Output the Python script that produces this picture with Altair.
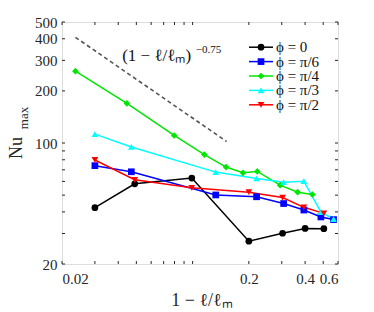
import altair as alt
import pandas as pd

# ---------------- data ----------------
labels = ["ϕ = 0", "ϕ = π/6", "ϕ = π/4", "ϕ = π/3", "ϕ = π/2"]
colors = ["#000000", "#0000ff", "#00e600", "#00ffff", "#ff0000"]
shapes = ["circle", "square", "diamond", "triangle-up", "triangle-down"]

x_phi0 = [0.03, 0.049, 0.099, 0.2, 0.303, 0.4, 0.504]
y_phi0 = [42.3, 58.1, 62.7, 27.1, 30.1, 32.1, 32.0]

x_phi6 = [0.03, 0.047, 0.133, 0.22, 0.307, 0.394, 0.486, 0.568]
y_phi6 = [74.0, 68.2, 50.1, 48.9, 44.7, 41.0, 37.4, 36.1]

x_phi4 = [0.0236, 0.0445, 0.0797, 0.1156, 0.151, 0.186, 0.222, 0.294, 0.365, 0.438]
y_phi4 = [260, 169.6, 110.5, 85.7, 72.6, 67.3, 68.5, 57.1, 52.0, 50.4]

x_phi3 = [0.03, 0.047, 0.133, 0.22, 0.307, 0.394, 0.486, 0.568]
y_phi3 = [112.5, 94.9, 67.9, 62.4, 59.4, 60.2, 39.9, 36.4]

x_phi2 = [0.03, 0.049, 0.099, 0.2, 0.303, 0.394, 0.504]
y_phi2 = [79.8, 61.3, 55.1, 52.0, 48.4, 42.5, 39.2]

dash_x = [0.0236, 0.152]
dash_y = [408, 102]

x_ticks = [0.02, 0.03, 0.04, 0.05, 0.06, 0.07, 0.08, 0.09, 0.1, 0.2, 0.3, 0.4, 0.5, 0.6]
x_labels = [0.02, 0.2, 0.4, 0.6]
y_ticks = [20, 30, 40, 50, 60, 70, 80, 90, 100, 200, 300, 400, 500]
y_labels = [20, 100, 200, 300, 400, 500]

W, H = 276, 242
FONT = "Liberation Serif"
AX = "#262626"

rows = []
for lab, xs, ys in zip(labels, [x_phi0, x_phi6, x_phi4, x_phi3, x_phi2],
                       [y_phi0, y_phi6, y_phi4, y_phi3, y_phi2]):
    for i, (a, b) in enumerate(zip(xs, ys)):
        rows.append({"series": lab, "x": a, "y": b, "i": i})
df = pd.DataFrame(rows)

xscale = alt.Scale(type="log", domain=[0.02, 0.6], nice=False)
yscale = alt.Scale(type="log", domain=[20, 500], nice=False)
cscale = alt.Scale(domain=labels, range=colors)
sscale = alt.Scale(domain=labels, range=shapes)

xaxis = alt.Axis(values=x_labels, format="~g", ticks=False, domain=False, grid=False,
                 labelFont=FONT, labelFontSize=15, labelColor=AX, labelPadding=7, title=None)
yaxis = alt.Axis(values=y_labels, format="d", ticks=False, domain=False, grid=False,
                 labelFont=FONT, labelFontSize=15, labelColor=AX, labelPadding=5, title=None)

base = alt.Chart(df)
lines = base.mark_line(strokeWidth=1.5).encode(
    x=alt.X("x:Q", scale=xscale, axis=xaxis),
    y=alt.Y("y:Q", scale=yscale, axis=yaxis),
    color=alt.Color("series:N", scale=cscale, legend=None),
    detail="series:N",
    order="i:Q",
)
points = base.mark_point(filled=True, size=45, opacity=1).encode(
    x=alt.X("x:Q", scale=xscale),
    y=alt.Y("y:Q", scale=yscale),
    color=alt.Color("series:N", scale=cscale, legend=None),
    shape=alt.Shape("series:N", scale=sscale, legend=None),
)

dash = alt.Chart(pd.DataFrame({"x": dash_x, "y": dash_y})).mark_line(
    color="#555555", strokeWidth=1.6, strokeDash=[4, 3]
).encode(x=alt.X("x:Q", scale=xscale), y=alt.Y("y:Q", scale=yscale))

ann_main = alt.Chart(pd.DataFrame({"x": [0.042], "y": [316], "t": ["(1 − ℓ/ℓₘ)"]})).mark_text(
    font=FONT, fontSize=17, align="left", baseline="middle", color="#111111"
).encode(x=alt.X("x:Q", scale=xscale), y=alt.Y("y:Q", scale=yscale), text="t:N")
ann_sup = alt.Chart(pd.DataFrame({"x": [0.104], "y": [345], "t": ["−0.75"]})).mark_text(
    font=FONT, fontSize=11, align="left", baseline="middle", color="#111111"
).encode(x=alt.X("x:Q", scale=xscale), y=alt.Y("y:Q", scale=yscale), text="t:N")

xt = alt.Chart(pd.DataFrame({"v": x_ticks}))
yt = alt.Chart(pd.DataFrame({"v": y_ticks}))
tick_b = xt.mark_rule(color=AX, strokeWidth=1).encode(
    x=alt.X("v:Q", scale=xscale), y=alt.value(H), y2=alt.value(H - 3))
tick_t = xt.mark_rule(color=AX, strokeWidth=1).encode(
    x=alt.X("v:Q", scale=xscale), y=alt.value(0), y2=alt.value(3))
tick_l = yt.mark_rule(color=AX, strokeWidth=1).encode(
    y=alt.Y("v:Q", scale=yscale), x=alt.value(0), x2=alt.value(3))
tick_r = yt.mark_rule(color=AX, strokeWidth=1).encode(
    y=alt.Y("v:Q", scale=yscale), x=alt.value(W - 3), x2=alt.value(W))

titles = alt.Chart(pd.DataFrame({"a": [0]}))
xtitle = titles.mark_text(font=FONT, fontSize=18, align="center", baseline="middle",
                          color=AX, text="1 − ℓ/ℓₘ").encode(x=alt.value(140), y=alt.value(279))
ytitle1 = titles.mark_text(font=FONT, fontSize=18, align="center", baseline="middle",
                           color=AX, angle=270, text="Nu").encode(x=alt.value(-45), y=alt.value(126))
ytitle2 = titles.mark_text(font=FONT, fontSize=13, align="center", baseline="middle",
                           color=AX, angle=270, text="max").encode(x=alt.value(-38), y=alt.value(96))

data_layer = alt.layer(dash, lines, points, ann_main, ann_sup,
                       tick_b, tick_t, tick_l, tick_r, xtitle, ytitle1, ytitle2)

leg = alt.Chart(pd.DataFrame({"series": labels}))
lscale = alt.Scale(type="point", domain=labels, range=[18, 90])
leg_rule = leg.mark_rule(strokeWidth=1.5).encode(
    y=alt.Y("series:N", scale=lscale, axis=None),
    x=alt.value(187), x2=alt.value(211),
    color=alt.Color("series:N", scale=cscale, legend=None))
leg_pt = leg.mark_point(filled=True, size=45, opacity=1).encode(
    y=alt.Y("series:N", scale=lscale, axis=None),
    x=alt.value(199),
    color=alt.Color("series:N", scale=cscale, legend=None),
    shape=alt.Shape("series:N", scale=sscale, legend=None))
leg_txt = leg.mark_text(font=FONT, fontSize=15, align="left", baseline="middle",
                        color="#111111").encode(
    y=alt.Y("series:N", scale=lscale, axis=None),
    x=alt.value(214), text="series:N")
legend_layer = alt.layer(leg_rule, leg_pt, leg_txt)

chart = alt.layer(data_layer, legend_layer).resolve_scale(y="independent").properties(
    width=W, height=H,
    padding={"left": 54, "top": 14, "right": 28, "bottom": 56},
    autosize=alt.AutoSizeParams(type="none"),
).configure_view(stroke=AX, strokeWidth=1).configure(background="white")

chart.save("out.html", embed_options={"renderer": "svg", "actions": False})
